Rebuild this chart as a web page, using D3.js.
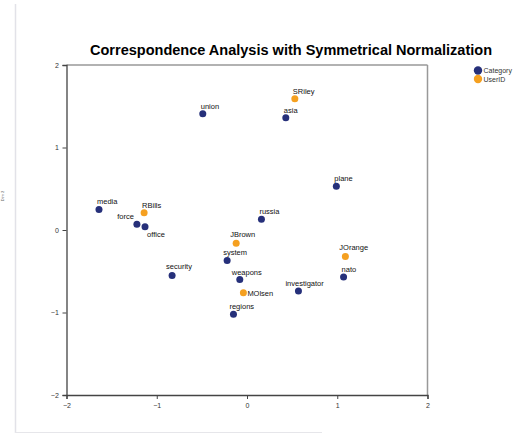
<!DOCTYPE html>
<html>
<head>
<meta charset="utf-8">
<script src="https://cdn.jsdelivr.net/npm/d3@7"></script>
<style>
  body { margin: 0; background: #fff; }
  text { font-family: "Liberation Sans", Arial, sans-serif; }
</style>
</head>
<body>
<svg id="chart" width="523" height="434"></svg>
<script>
// point names, coordinates (dim 1 / dim 2) and group
const names = ["media", "RBills", "force", "office", "security", "JBrown", "system", "weapons",
  "MOlsen", "regions", "plane", "russia", "JOrange", "nato", "investigator", "union", "SRiley", "asia"];
const dim1 = [-1.64, -1.14, -1.22, -1.13, -0.83, -0.12, -0.22, -0.08,
  -0.04, -0.15, 0.99, 0.16, 1.09, 1.07, 0.57, -0.49, 0.53, 0.43];
const dim2 = [0.25, 0.21, 0.07, 0.04, -0.55, -0.16, -0.37, -0.60,
  -0.76, -1.02, 0.53, 0.13, -0.32, -0.57, -0.74, 1.41, 1.59, 1.36];
const groups = ["Category", "UserID", "Category", "Category", "Category", "UserID", "Category", "Category",
  "UserID", "Category", "Category", "Category", "UserID", "Category", "Category", "Category", "UserID", "Category"];

const legendItems = ["Category", "UserID"];
const tickValues = [-2, -1, 0, 1, 2];

// label nudges (layout only)
const labelPos = {
  force: { dx: -3, dy: -5, anchor: "end" },
  office: { dx: 2, dy: 10 },
  MOlsen: { dx: 4, dy: 3 },
  investigator: { dx: -13, dy: -5 },
  security: { dx: -6, dy: -6 },
  JBrown: { dx: -6, dy: -6 },
  system: { dx: -4, dy: -6 },
  weapons: { dx: -8, dy: -5 },
  JOrange: { dx: -6, dy: -6 },
  regions: { dx: -4, dy: -5 }
};

const color = d3.scaleOrdinal().domain(legendItems).range(["#26307a", "#f5a020"]);

const svg = d3.select("#chart");
const plotLeft = 66.5, plotRight = 427.5, plotTop = 65, plotBottom = 395;

const x = d3.scaleLinear().domain([-2, 2]).range([plotLeft, plotRight]);
const y = d3.scaleLinear().domain([-2, 2]).range([plotBottom, plotTop]);

// faint page edges
svg.append("line").attr("x1", 15.5).attr("x2", 15.5).attr("y1", 4).attr("y2", 433)
  .attr("stroke", "#e2e2e8").attr("stroke-width", 1.5);
svg.append("line").attr("x1", 15).attr("x2", 322).attr("y1", 432.5).attr("y2", 432.5)
  .attr("stroke", "#e6e6ea").attr("stroke-width", 1);

// tiny rotated y label
svg.append("text").attr("transform", "translate(4,196) rotate(-90)")
  .attr("text-anchor", "middle").attr("font-size", 4).attr("fill", "#666").text("Dim 2");

// frame: top/right lighter
svg.append("line").attr("x1", plotLeft).attr("x2", plotRight).attr("y1", plotTop).attr("y2", plotTop)
  .attr("stroke", "#999").attr("stroke-width", 1.5);
svg.append("line").attr("x1", plotRight).attr("x2", plotRight).attr("y1", plotTop).attr("y2", plotBottom)
  .attr("stroke", "#999").attr("stroke-width", 1.5);

const xAxis = svg.append("g").attr("transform", `translate(0,${plotBottom})`)
  .call(d3.axisBottom(x).tickValues(tickValues).tickSize(4).tickFormat(d3.format("d")));
const yAxis = svg.append("g").attr("transform", `translate(${plotLeft},0)`)
  .call(d3.axisLeft(y).tickValues(tickValues).tickSize(4).tickFormat(d3.format("d")));
[xAxis, yAxis].forEach(g => {
  g.select(".domain").attr("stroke", "#444").attr("stroke-width", 1.3);
  g.selectAll(".tick line").attr("stroke", "#444");
  g.selectAll(".tick text").attr("font-size", 7).attr("fill", "#333")
    .attr("font-family", "Liberation Sans, Arial, sans-serif");
});
xAxis.selectAll(".tick text").attr("dy", "0.9em");
yAxis.selectAll(".tick text").attr("dx", "-0.1em");

// title
svg.append("text").attr("x", 291).attr("y", 55).attr("text-anchor", "middle")
  .attr("font-size", 14).attr("font-weight", "bold").attr("fill", "#000")
  .attr("textLength", 402).attr("lengthAdjust", "spacingAndGlyphs")
  .text("Correspondence Analysis with Symmetrical Normalization");

const pts = names.map((n, i) => ({ name: n, d1: dim1[i], d2: dim2[i], g: groups[i] }));

svg.append("g").selectAll("circle").data(pts).enter().append("circle")
  .attr("cx", d => x(d.d1)).attr("cy", d => y(d.d2)).attr("r", 3.5)
  .attr("fill", d => color(d.g));

svg.append("g").selectAll("text").data(pts).enter().append("text")
  .attr("x", d => x(d.d1) + (labelPos[d.name] ? labelPos[d.name].dx : -2))
  .attr("y", d => y(d.d2) + (labelPos[d.name] ? labelPos[d.name].dy : -5))
  .attr("text-anchor", d => (labelPos[d.name] && labelPos[d.name].anchor) || "start")
  .attr("font-size", 7.5).attr("fill", "#111")
  .text(d => d.name);

// legend
const leg = svg.append("g").selectAll("g").data(legendItems).enter().append("g")
  .attr("transform", (d, i) => `translate(478,${70.5 + i * 8.5})`);
leg.append("circle").attr("r", 4.2).attr("fill", d => color(d));
leg.append("text").attr("x", 5.5).attr("y", 2.5).attr("font-size", 7).attr("fill", "#333").text(d => d);
</script>
</body>
</html>
